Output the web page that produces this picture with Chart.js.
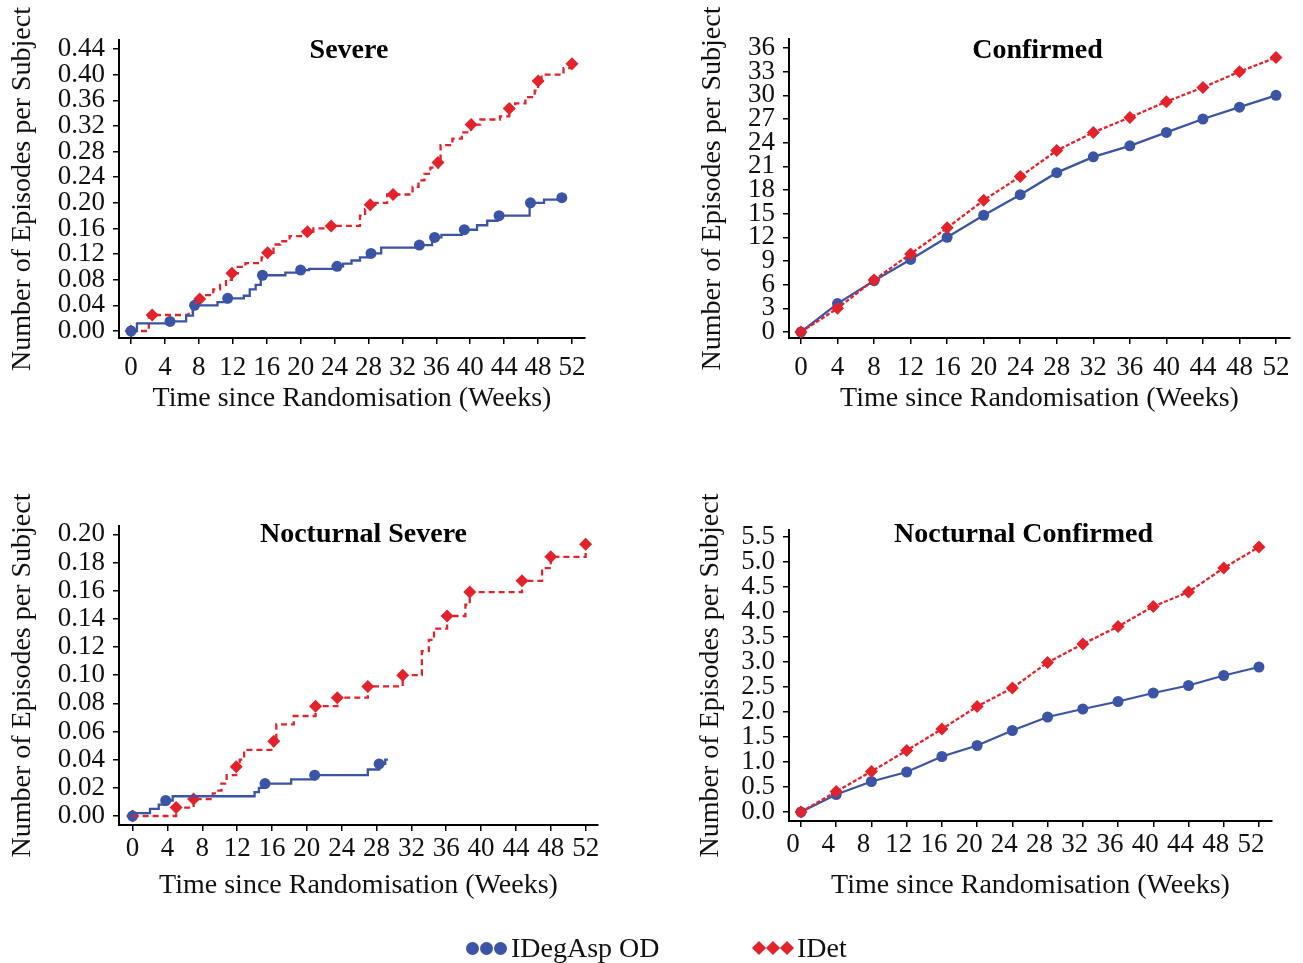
<!DOCTYPE html>
<html>
<head>
<meta charset="utf-8">
<script src="https://cdn.jsdelivr.net/npm/chart.js@4/dist/chart.umd.min.js"></script>
<style>
    html, body { margin: 0; padding: 0; background: #fff; }
    body { width: 1303px; height: 963px; position: relative; overflow: hidden; font-family: "Liberation Serif", serif; }
    canvas { position: absolute; }
    #legend { position: absolute; top: 929px; left: 466px; font-size: 28px; color: #111; white-space: nowrap; }
    #legend .item { position: absolute; top: 0; display: flex; align-items: center; height: 38px; }
    #legend .dot { display: inline-block; width: 13px; height: 13px; border-radius: 50%; background: #3b54a5; margin-right: 1px; }
    #legend .dia { display: inline-block; width: 10px; height: 10px; background: #e3222b; transform: rotate(45deg); margin: 0 2px 0 2px; }
    #legend .lbl { margin-left: 3px; }
</style>
</head>
<body>
<canvas id="severe" width="640" height="430" style="left:0;top:0"></canvas>
<canvas id="confirmed" width="633" height="430" style="left:670px;top:0"></canvas>
<canvas id="nocSevere" width="640" height="460" style="left:0;top:470px"></canvas>
<canvas id="nocConfirmed" width="633" height="460" style="left:670px;top:470px"></canvas>
<div id="legend">
    <span class="item" style="left:0"><span class="dot"></span><span class="dot"></span><span class="dot"></span><span class="lbl">IDegAsp OD</span></span>
    <span class="item" style="left:286px"><span class="dia"></span><span class="dia"></span><span class="dia"></span><span class="lbl">IDet</span></span>
</div>
<script>
// tick labels
const weekTicks = [0, 4, 8, 12, 16, 20, 24, 28, 32, 36, 40, 44, 48, 52];
const severeTicks = [0, 0.04, 0.08, 0.12, 0.16, 0.20, 0.24, 0.28, 0.32, 0.36, 0.40, 0.44];
const confirmedTicks = [0, 3, 6, 9, 12, 15, 18, 21, 24, 27, 30, 33, 36];
const nocSevereTicks = [0, 0.02, 0.04, 0.06, 0.08, 0.10, 0.12, 0.14, 0.16, 0.18, 0.20];
const nocConfirmedTicks = [0, 0.5, 1.0, 1.5, 2.0, 2.5, 3.0, 3.5, 4.0, 4.5, 5.0, 5.5];

const seriesNames = ['IDegAsp OD', 'IDet'];

// Severe: step functions (week, cumulative episodes)
const sevStepWeeksA = [0, 0.7, 4.3, 6.5, 7.3, 10.2, 11.3, 13.3, 14.0, 14.7, 15.3, 18.2, 19.8, 21.0, 23.8, 25.0, 26.0, 27.0, 28.0, 29.5, 33.8, 35.5, 36.6, 39.0, 40.8, 42.0, 43.2, 47.0, 48.7, 51.0];
const sevStepA = [0, 0.012, 0.015, 0.024, 0.040, 0.045, 0.051, 0.055, 0.065, 0.072, 0.087, 0.091, 0.095, 0.097, 0.101, 0.105, 0.110, 0.115, 0.121, 0.130, 0.134, 0.146, 0.150, 0.158, 0.165, 0.172, 0.180, 0.200, 0.205, 0.208];
const sevMarkWeeksA = [0, 4.6, 7.5, 11.4, 15.5, 20.0, 24.3, 28.3, 34.0, 35.8, 39.3, 43.4, 47.1, 50.8];
const sevMarkA = [0, 0.015, 0.040, 0.051, 0.087, 0.095, 0.101, 0.121, 0.134, 0.146, 0.158, 0.180, 0.200, 0.208];

const sevStepWeeksB = [0, 2.1, 6.8, 7.3, 7.7, 8.1, 8.6, 9.7, 10.5, 11.2, 11.9, 12.6, 13.5, 15.4, 16.1, 16.8, 17.6, 18.7, 20.3, 21.5, 23.6, 27.0, 27.6, 28.2, 28.8, 30.2, 33.2, 33.9, 34.6, 35.3, 36.2, 36.5, 37.9, 39.0, 40.1, 41.2, 43.5, 44.6, 45.3, 46.5, 47.6, 48.0, 48.4, 51.0, 52.0];
const sevStepB = [0, 0.025, 0.030, 0.037, 0.045, 0.050, 0.056, 0.065, 0.072, 0.080, 0.090, 0.100, 0.106, 0.115, 0.122, 0.135, 0.140, 0.148, 0.155, 0.160, 0.164, 0.180, 0.190, 0.197, 0.200, 0.213, 0.225, 0.235, 0.245, 0.255, 0.263, 0.290, 0.300, 0.310, 0.322, 0.330, 0.335, 0.347, 0.355, 0.365, 0.375, 0.390, 0.400, 0.410, 0.417];
const sevMarkWeeksB = [0, 2.5, 8.1, 11.9, 16.1, 20.8, 23.6, 28.2, 30.9, 36.2, 40.1, 44.6, 48.0, 52.0];
const sevMarkB = [0, 0.025, 0.050, 0.090, 0.122, 0.155, 0.164, 0.197, 0.213, 0.263, 0.322, 0.347, 0.390, 0.417];

// Confirmed
const confWeeks = [0, 4, 8, 12, 16, 20, 24, 28, 32, 36, 40, 44, 48, 52];
const confA = [0, 3.6, 6.5, 9.2, 12.0, 14.8, 17.4, 20.2, 22.2, 23.6, 25.3, 27.0, 28.5, 30.0];
const confB = [0, 3.0, 6.6, 9.9, 13.2, 16.7, 19.7, 23.0, 25.3, 27.2, 29.2, 31.0, 33.0, 34.8];

// Nocturnal severe
const nsevStepWeeksA = [0, 2.0, 3.0, 3.6, 4.6, 14.0, 14.5, 15.2, 18.2, 20.9, 27.0, 28.3, 29.0, 29.3];
const nsevStepA = [0.002, 0.005, 0.008, 0.011, 0.014, 0.017, 0.020, 0.023, 0.026, 0.029, 0.033, 0.037, 0.040, 0.040];
const nsevMarkWeeksA = [0, 3.8, 15.2, 20.9, 28.3];
const nsevMarkA = [0, 0.011, 0.023, 0.029, 0.037];

const nsevStepWeeksB = [0, 5.0, 7.0, 9.2, 9.6, 10.2, 10.8, 11.9, 12.3, 12.8, 16.2, 16.5, 18.5, 21.0, 23.5, 27.0, 31.0, 33.2, 34.0, 34.6, 36.1, 38.2, 38.7, 44.7, 47.0, 48.0, 52.0];
const nsevStepB = [0, 0.006, 0.012, 0.016, 0.018, 0.023, 0.029, 0.035, 0.040, 0.047, 0.053, 0.065, 0.071, 0.078, 0.084, 0.092, 0.100, 0.117, 0.125, 0.133, 0.142, 0.150, 0.159, 0.167, 0.176, 0.184, 0.193];
const nsevMarkWeeksB = [0, 5.0, 7.0, 11.9, 16.2, 21.0, 23.5, 27.0, 31.0, 36.1, 38.7, 44.7, 48.0, 52.0];
const nsevMarkB = [0, 0.006, 0.012, 0.035, 0.053, 0.078, 0.084, 0.092, 0.100, 0.142, 0.159, 0.167, 0.184, 0.193];

// Nocturnal confirmed
const nconfWeeks = [0, 4, 8, 12, 16, 20, 24, 28, 32, 36, 40, 44, 48, 52];
const nconfA = [0, 0.35, 0.61, 0.80, 1.11, 1.33, 1.63, 1.90, 2.06, 2.21, 2.38, 2.53, 2.73, 2.90];
const nconfB = [0, 0.41, 0.81, 1.23, 1.66, 2.11, 2.48, 2.99, 3.36, 3.71, 4.11, 4.40, 4.88, 5.30];

const BLUE = '#3b54a5';
const RED = '#e3222b';
const FONT = '"Liberation Serif", "Times New Roman", serif';

function pts(xs, ys) {
    return xs.map((x, i) => ({ x: x, y: ys[i] }));
}

// title drawn inside the plot area
const panelTitle = {
    id: 'panelTitle',
    afterDraw(chart, args, opts) {
        const { ctx, chartArea } = chart;
        ctx.save();
        ctx.font = 'bold 28px ' + FONT;
        ctx.fillStyle = '#000';
        ctx.textAlign = 'center';
        ctx.textBaseline = 'middle';
        ctx.fillText(opts.text, (chartArea.left + chartArea.right) / 2 + (opts.dx || 0), chartArea.top + opts.dy);
        ctx.restore();
    }
};

function lineSet(name, data, color, isRed, stepped, showPoints) {
    return {
        label: name,
        data: data,
        borderColor: color,
        backgroundColor: color,
        borderWidth: 2.3,
        borderDash: isRed ? (stepped ? [6, 4] : [4, 2]) : [],
        // horizontal first, then the jump at the next event time
        stepped: stepped ? 'before' : false,
        tension: 0,
        pointRadius: showPoints ? (isRed ? 6.5 : 5.5) : 0,
        pointStyle: isRed ? 'rectRot' : 'circle',
        pointBorderWidth: 0,
        pointBackgroundColor: color
    };
}

function markSet(name, data, color, isRed) {
    return {
        label: name,
        data: data,
        showLine: false,
        backgroundColor: color,
        borderColor: color,
        pointRadius: isRed ? 6.5 : 5.5,
        pointStyle: isRed ? 'rectRot' : 'circle',
        pointBorderWidth: 0
    };
}

function makeChart(id, cfg) {
    new Chart(document.getElementById(id), {
        type: 'line',
        data: { datasets: cfg.datasets },
        options: {
            responsive: false,
            animation: false,
            layout: { padding: cfg.padding },
            plugins: {
                legend: { display: false },
                tooltip: { enabled: false },
                panelTitle: { text: cfg.title, dy: cfg.titleDy, dx: cfg.titleDx }
            },
            scales: {
                x: {
                    type: 'linear',
                    min: cfg.xMin,
                    max: cfg.xMax,
                    afterBuildTicks: s => { s.ticks = weekTicks.map(v => ({ value: v })); },
                    afterFit: s => { s.height = cfg.xHeight; },
                    ticks: {
                        autoSkip: false,
                        maxRotation: 0,
                        color: '#111',
                        padding: cfg.xPad,
                        labelOffset: cfg.xLabelOffset || 0,
                        font: { family: FONT, size: 27 },
                        callback: v => String(v)
                    },
                    grid: { drawOnChartArea: false, drawTicks: true, tickLength: 6, color: '#000', lineWidth: 1.5 },
                    border: { display: true, color: '#000', width: 2 },
                    title: {
                        display: true,
                        text: 'Time since Randomisation (Weeks)',
                        color: '#111',
                        font: { family: FONT, size: 28, lineHeight: 1.2 },
                        padding: { top: 0, bottom: cfg.xTitlePad }
                    }
                },
                y: {
                    type: 'linear',
                    min: cfg.yMin,
                    max: cfg.yMax,
                    afterBuildTicks: s => { s.ticks = cfg.yTicks.map(v => ({ value: v })); },
                    afterFit: s => { s.width = cfg.yWidth; },
                    ticks: {
                        autoSkip: false,
                        color: '#111',
                        padding: 8,
                        font: { family: FONT, size: 27 },
                        callback: v => v.toFixed(cfg.yDec)
                    },
                    grid: { drawOnChartArea: false, drawTicks: true, tickLength: 6, color: '#000', lineWidth: 1.5 },
                    border: { display: true, color: '#000', width: 2 },
                    title: {
                        display: true,
                        text: 'Number of Episodes per Subject',
                        color: '#111',
                        font: { family: FONT, size: 28, lineHeight: 1.2 },
                        padding: { top: cfg.yTitlePad, bottom: 0 }
                    }
                }
            }
        },
        plugins: [panelTitle]
    });
}

makeChart('severe', {
    title: 'Severe', titleDy: 11, titleDx: -3,
    padding: { left: 0, top: 40, right: 55, bottom: 0 },
    yWidth: 119, xHeight: 92, xPad: 8, xTitlePad: 15, yTitlePad: 6,
    xMin: -1.415, xMax: 53.53, yMin: -0.0109, yMax: 0.454,
    yTicks: severeTicks, yDec: 2,
    datasets: [
        lineSet(seriesNames[0], pts(sevStepWeeksA, sevStepA), BLUE, false, true, false),
        lineSet(seriesNames[1], pts(sevStepWeeksB, sevStepB), RED, true, true, false),
        markSet(seriesNames[0], pts(sevMarkWeeksA, sevMarkA), BLUE, false),
        markSet(seriesNames[1], pts(sevMarkWeeksB, sevMarkB), RED, true)
    ]
});

makeChart('confirmed', {
    title: 'Confirmed', titleDy: 12, titleDx: -2,
    padding: { left: 0, top: 39, right: 13, bottom: 0 },
    yWidth: 119, xHeight: 92, xPad: 8, xTitlePad: 15, yTitlePad: 26,
    xMin: -1.31, xMax: 53.53, yMin: -0.76, yMax: 37.14,
    yTicks: confirmedTicks, yDec: 0,
    datasets: [
        lineSet(seriesNames[1], pts(confWeeks, confB), RED, true, false, true),
        lineSet(seriesNames[0], pts(confWeeks, confA), BLUE, false, false, true)
    ]
});

makeChart('nocSevere', {
    title: 'Nocturnal Severe', titleDy: 9, titleDx: 5,
    padding: { left: 0, top: 56, right: 42, bottom: 0 },
    yWidth: 119, xHeight: 105, xPad: 2, xTitlePad: 28, yTitlePad: 6,
    xMin: -1.56, xMax: 53.42, yMin: -0.0064, yMax: 0.2059,
    yTicks: nocSevereTicks, yDec: 2,
    datasets: [
        lineSet(seriesNames[0], pts(nsevStepWeeksA, nsevStepA), BLUE, false, true, false),
        lineSet(seriesNames[1], pts(nsevStepWeeksB, nsevStepB), RED, true, true, false),
        markSet(seriesNames[0], pts(nsevMarkWeeksA, nsevMarkA), BLUE, false),
        markSet(seriesNames[1], pts(nsevMarkWeeksB, nsevMarkB), RED, true)
    ]
});

makeChart('nocConfirmed', {
    title: 'Nocturnal Confirmed', titleDy: 5, titleDx: -7,
    padding: { left: 0, top: 60, right: 31, bottom: 0 },
    yWidth: 119, xHeight: 109, xPad: 2, xTitlePad: 28, yTitlePad: 24,
    xMin: -1.36, xMax: 53.48, yMin: -0.18, yMax: 5.64, xLabelOffset: -8,
    yTicks: nocConfirmedTicks, yDec: 1,
    datasets: [
        lineSet(seriesNames[1], pts(nconfWeeks, nconfB), RED, true, false, true),
        lineSet(seriesNames[0], pts(nconfWeeks, nconfA), BLUE, false, false, true)
    ]
});
</script>
</body>
</html>
